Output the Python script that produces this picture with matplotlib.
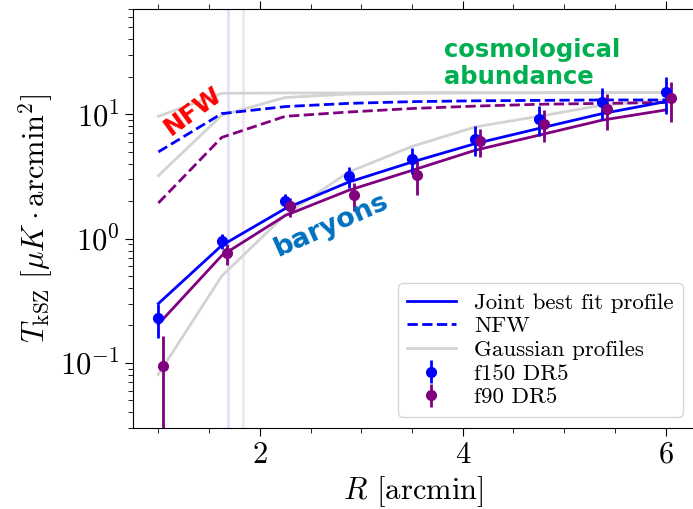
import matplotlib
matplotlib.use("Agg")
import matplotlib.pyplot as plt
from matplotlib.lines import Line2D
from matplotlib.ticker import MultipleLocator, LogLocator, NullFormatter

plt.rcParams["font.family"] = "serif"
plt.rcParams["font.serif"] = ["cmr10"]
plt.rcParams["mathtext.fontset"] = "cm"
plt.rcParams["axes.formatter.use_mathtext"] = True
plt.rcParams["axes.unicode_minus"] = False

# radial bins (arcmin)
r_f150 = [1.0, 1.625, 2.25, 2.875, 3.5, 4.125, 4.75, 5.375, 6.0]
r_f90 = [1.05, 1.675, 2.30, 2.925, 3.55, 4.175, 4.80, 5.425, 6.05]

# measured profiles
t_f150 = [0.23, 0.96, 2.0, 3.16, 4.34, 6.29, 9.2, 12.6, 15.0]
err_f150 = [0.07, 0.13, 0.26, 0.62, 1.05, 1.7, 2.5, 3.6, 5.0]
t_f90 = [0.094, 0.76, 1.81, 2.25, 3.22, 6.06, 8.4, 11.0, 13.4]
err_f90 = [0.07, 0.15, 0.32, 0.57, 1.0, 1.55, 2.4, 3.6, 4.8]

# joint best fit
fit_f150 = [0.30, 0.88, 1.74, 2.84, 4.12, 5.80, 7.67, 10.1, 12.6]
fit_f90 = [0.205, 0.73, 1.53, 2.44, 3.53, 5.13, 6.77, 8.95, 10.8]

# NFW
nfw_f150 = [4.97, 10.1, 11.5, 12.2, 12.6, 12.8, 12.9, 13.0, 13.0]
nfw_f90 = [1.93, 6.5, 9.6, 10.4, 11.1, 11.6, 12.0, 12.2, 12.4]

# Gaussian profiles
gauss_1 = [9.6, 14.7, 14.8, 14.8, 14.9, 14.9, 14.9, 14.9, 14.9]
gauss_2 = [3.2, 9.8, 13.6, 14.5, 14.7, 14.8, 14.8, 14.9, 14.9]
gauss_3 = [0.081, 0.50, 1.55, 3.42, 5.5, 7.9, 9.6, 11.8, 13.0]

# beam scales
beam_f150 = 1.69
beam_f90 = 1.83

fig = plt.figure(figsize=(6.93, 5.09), dpi=100)
ax = fig.add_axes([133 / 693, 81 / 509, 561 / 693, 419 / 509])

ax.axvline(beam_f150, color="blue", alpha=0.12, lw=2)
ax.axvline(beam_f90, color="purple", alpha=0.1, lw=2)

for g in (gauss_1, gauss_2, gauss_3):
    ax.plot(r_f150, g, color="lightgray", lw=2)

ax.plot(r_f150, nfw_f150, color="blue", ls="--", lw=2)
ax.plot(r_f150, nfw_f90, color="purple", ls="--", lw=2)
ax.plot(r_f150, fit_f150, color="blue", lw=2)
ax.plot(r_f150, fit_f90, color="purple", lw=2)

ax.errorbar(r_f150, t_f150, yerr=err_f150, fmt="o", color="blue", ms=7, elinewidth=2)
ax.errorbar(r_f90, t_f90, yerr=err_f90, fmt="o", color="purple", ms=7, elinewidth=2)

ax.set_yscale("log")
ax.set_xlim(0.75, 6.28)
ax.set_ylim(0.03, 70)
ax.xaxis.set_major_locator(MultipleLocator(2))
ax.xaxis.set_minor_locator(MultipleLocator(0.5))
ax.yaxis.set_major_locator(LogLocator(base=10, numticks=10))
ax.yaxis.set_minor_locator(LogLocator(base=10, subs=range(2, 10), numticks=20))
ax.yaxis.set_minor_formatter(NullFormatter())
ax.tick_params(which="both", direction="out", top=True, right=True, labelsize=22)
ax.tick_params(which="major", length=6)
ax.tick_params(which="minor", length=3.5)

ax.set_xlabel(r"$R$ [arcmin]", fontsize=22)
ax.set_ylabel(r"$T_{\rm kSZ}\ [\mu K \cdot {\rm arcmin}^2]$", fontsize=22)

handles = [
    Line2D([], [], color="blue", lw=2),
    Line2D([], [], color="blue", lw=2, ls="--"),
    Line2D([], [], color="lightgray", lw=2),
    ax.containers[0],
    ax.containers[1],
]
labels = ["Joint best fit profile", "NFW", "Gaussian profiles", "f150 DR5", "f90 DR5"]
ax.legend(handles, labels, loc="lower right", fontsize=16.5, labelspacing=0.16,
          handlelength=2.1, borderpad=0.4)

# annotations
ax.text(1.345, 10.6, "NFW", color="red", fontsize=18, fontweight="bold",
        family="DejaVu Sans", rotation=36, ha="center", va="center")
ax.text(3.82, 25.5, "cosmological\nabundance", color="#00b050", fontsize=17.5,
        fontweight="bold", family="DejaVu Sans", ha="left", va="center",
        linespacing=1.12)
ax.text(2.71, 1.27, "baryons", color="#0070c0", fontsize=19.5, fontweight="bold",
        family="DejaVu Sans", rotation=24, ha="center", va="center")

fig.savefig("out.png", dpi=100)
